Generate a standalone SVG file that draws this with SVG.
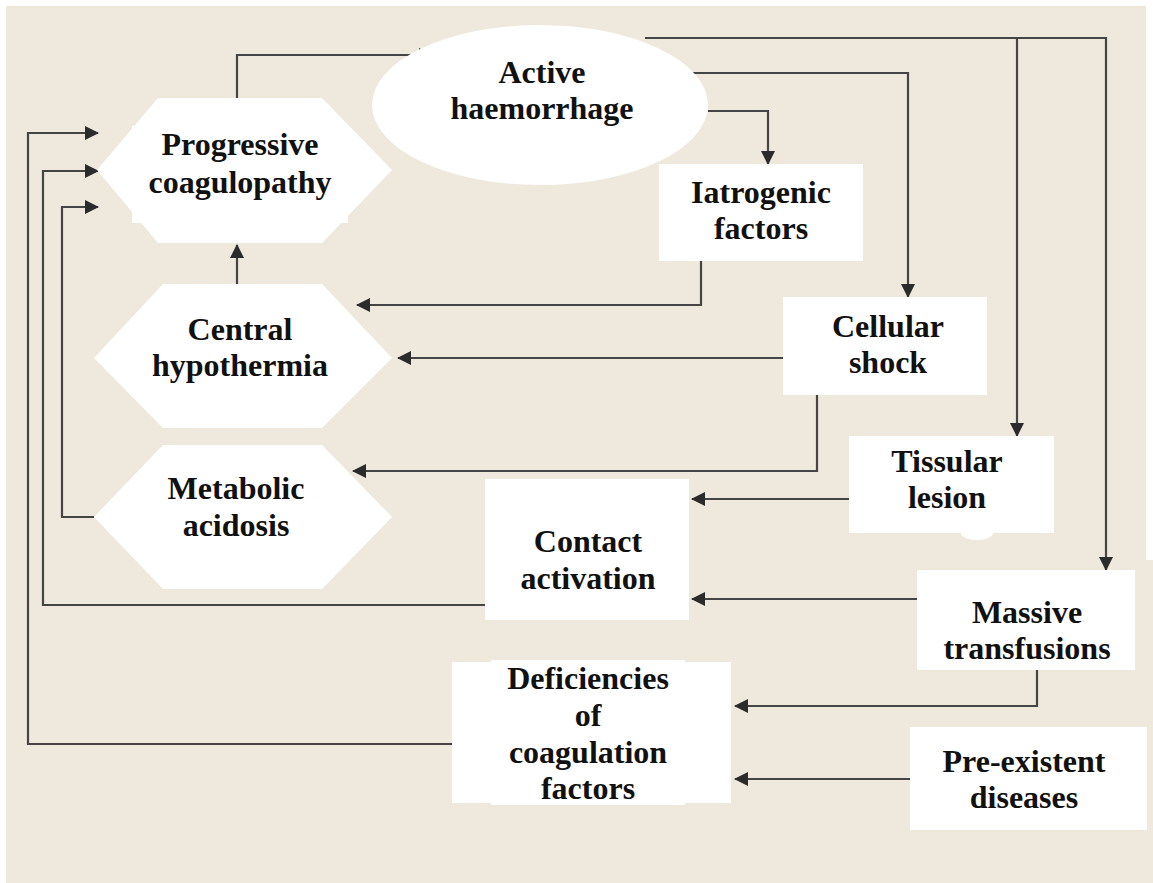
<svg xmlns="http://www.w3.org/2000/svg" width="1153" height="883" viewBox="0 0 1153 883">
<defs>
<marker id="ah" markerUnits="userSpaceOnUse" markerWidth="14" markerHeight="14" viewBox="0 0 14 14" refX="13" refY="7" orient="auto">
<path d="M0,0 L14,7 L0,14 Z" fill="#2b2b2b"/>
</marker>
<style>
.c{fill:none;stroke:#454545;stroke-width:2.2}
.a{marker-end:url(#ah)}
.n{fill:#ffffff;stroke:none}
.t{font-family:"Liberation Serif","Times New Roman",serif;font-weight:bold;font-size:32px;fill:#111;text-anchor:middle}
</style>
</defs>
<rect x="0" y="0" width="1153" height="883" fill="#ffffff"/>
<rect x="6" y="6" width="1147" height="877" fill="#efe8dd"/>
<rect x="1146" y="0" width="7" height="560" fill="#ffffff"/>
<g id="connectors">
<path class="c a" d="M237,98 V55 H432"/>
<path class="c a" d="M708,111 H768 V164"/>
<path class="c a" d="M690,73 H908 V297"/>
<path class="c a" d="M645,38 H1106 V570"/>
<path class="c a" d="M1017,38 V436"/>
<path class="c a" d="M701,261 V305 H357"/>
<path class="c a" d="M783,358 H398"/>
<path class="c a" d="M817,395 V471 H353"/>
<path class="c a" d="M237,284 V245"/>
<path class="c a" d="M849,499 H692"/>
<path class="c a" d="M917,599 H692"/>
<path class="c a" d="M485,605 H43 V171 H98"/>
<path class="c a" d="M94,517 H62 V207 H98"/>
<path class="c a" d="M1037,670 V706 H735"/>
<path class="c a" d="M910,779 H735"/>
<path class="c a" d="M452,744 H28 V133 H98"/>
</g>
<g id="progressive-coagulopathy">
<polygon class="n" points="97,170 158,98 322,98 392,170 322,243 158,243"/>
<rect class="n" x="132" y="126" width="216" height="97"/>
<text class="t" x="240" y="155">Progressive</text>
<text class="t" x="240" y="193">coagulopathy</text>
</g>
<g id="active-haemorrhage">
<ellipse class="n" cx="540" cy="105" rx="168" ry="80"/>
<text class="t" x="542" y="83">Active</text>
<text class="t" x="542" y="119">haemorrhage</text>
</g>
<g id="iatrogenic-factors">
<rect class="n" x="659" y="164" width="204" height="97"/>
<text class="t" x="761" y="203">Iatrogenic</text>
<text class="t" x="761" y="239">factors</text>
</g>
<g id="central-hypothermia">
<polygon class="n" points="94,358 163,284 322,284 392,358 322,428 163,428"/>
<text class="t" x="240" y="340">Central</text>
<text class="t" x="240" y="376">hypothermia</text>
</g>
<g id="metabolic-acidosis">
<polygon class="n" points="94,517 163,445 322,445 392,517 322,589 163,589"/>
<text class="t" x="236" y="499">Metabolic</text>
<text class="t" x="236" y="536">acidosis</text>
</g>
<g id="cellular-shock">
<rect class="n" x="783" y="297" width="204" height="98"/>
<text class="t" x="888" y="337">Cellular</text>
<text class="t" x="888" y="373">shock</text>
</g>
<g id="tissular-lesion">
<rect class="n" x="849" y="436" width="205" height="97"/>
<ellipse class="n" cx="977" cy="533" rx="16" ry="7"/>
<text class="t" x="947" y="472">Tissular</text>
<text class="t" x="947" y="508">lesion</text>
</g>
<g id="contact-activation">
<rect class="n" x="485" y="479" width="204" height="141"/>
<text class="t" x="588" y="552">Contact</text>
<text class="t" x="588" y="589">activation</text>
</g>
<g id="massive-transfusions">
<rect class="n" x="917" y="570" width="218" height="100"/>
<text class="t" x="1027" y="623">Massive</text>
<text class="t" x="1027" y="659">transfusions</text>
</g>
<g id="deficiencies">
<rect class="n" x="452" y="662" width="279" height="141"/>
<rect class="n" x="491" y="660" width="194" height="145"/>
<text class="t" x="588" y="689">Deficiencies</text>
<text class="t" x="588" y="726">of</text>
<text class="t" x="588" y="763">coagulation</text>
<text class="t" x="588" y="799">factors</text>
</g>
<g id="pre-existent-diseases">
<rect class="n" x="910" y="727" width="237" height="103"/>
<text class="t" x="1024" y="772">Pre-existent</text>
<text class="t" x="1024" y="808">diseases</text>
</g>
</svg>
